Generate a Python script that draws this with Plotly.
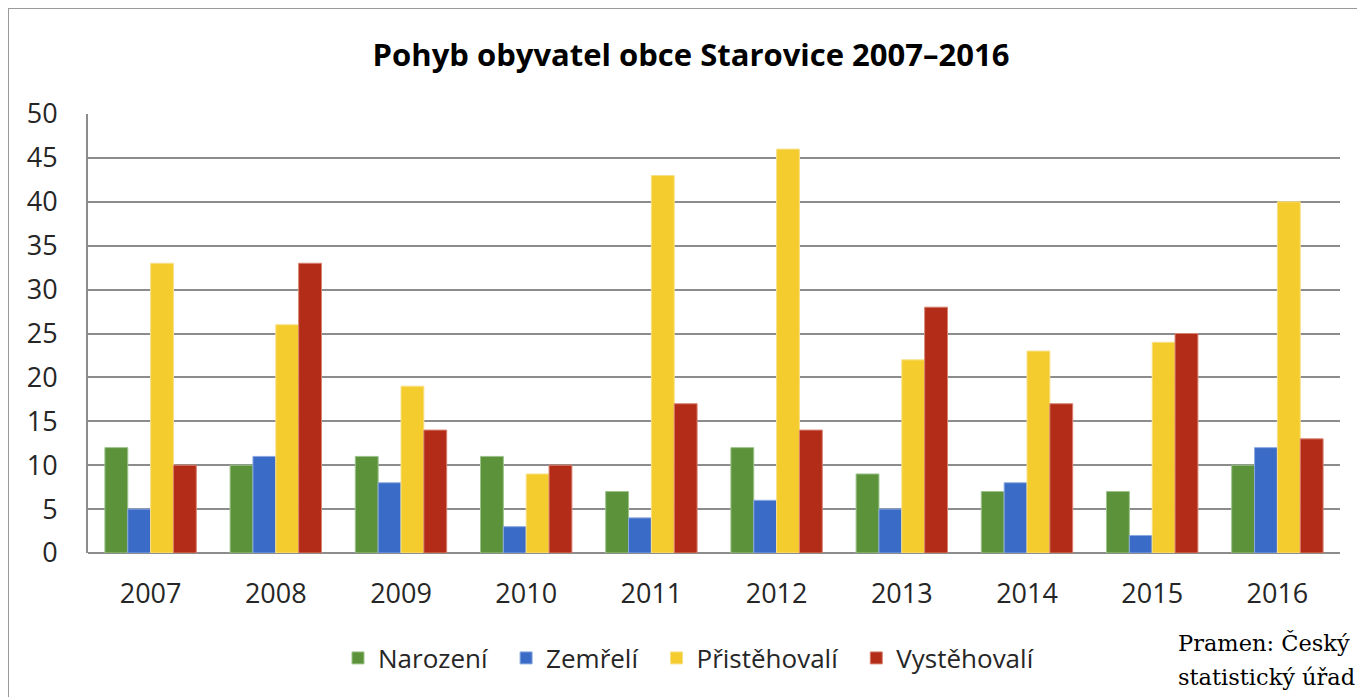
import plotly.graph_objects as go

years = ["2007", "2008", "2009", "2010", "2011", "2012", "2013", "2014", "2015", "2016"]
narozeni = [12, 10, 11, 11, 7, 12, 9, 7, 7, 10]
zemreli = [5, 11, 8, 3, 4, 6, 5, 8, 2, 12]
pristehovali = [33, 26, 19, 9, 43, 46, 22, 23, 24, 40]
vystehovali = [10, 33, 14, 10, 17, 14, 28, 17, 25, 13]

series_names = ["Narození", "Zemřelí", "Přistěhovalí", "Vystěhovalí"]
series_values = [narozeni, zemreli, pristehovali, vystehovali]
colors = ["#5B923A", "#3A6BC6", "#F4CC2D", "#B22C17"]
edge_colors = ["#9CC38A", "#8AA9E0", "#F8E08A", "#D9806F"]

fig = go.Figure()
for name, vals, c, ec in zip(series_names, series_values, colors, edge_colors):
    fig.add_trace(go.Bar(x=years, y=vals, name=name + "\u00a0\u00a0",
                         marker=dict(color=c, line=dict(color=ec, width=1))))

# page body has an 8px default margin; work in target-page pixels and offset
OFF = 8
W, H = 1365 - OFF, 697 - OFF
L = 88 - OFF
T = 114 - OFF
R = W - (1340 - OFF)
B = H - (553 - OFF)
pw = W - L - R
ph = H - T - B

def px2x(px):
    return (px - OFF - L) / pw

def py2y(py):
    return (H - B - (py - OFF)) / ph

FONT = "'Open Sans', Lato, sans-serif"

fig.update_layout(
    width=W, height=H,
    margin=dict(l=L, r=R, t=T, b=B, autoexpand=False),
    paper_bgcolor="white", plot_bgcolor="white",
    barmode="group", bargap=0.27, bargroupgap=0,
    font=dict(family=FONT, color="#262626"),
    title=dict(text="<b>Pohyb obyvatel obce Starovice 2007–2016</b>",
               x=px2x(691), xref="paper", xanchor="center",
               y=1 - (55 - OFF) / H, yref="container", yanchor="middle",
               font=dict(size=31, color="#000000", family=FONT)),
    xaxis=dict(showgrid=False, showline=False, ticks="", automargin=False,
               tickfont=dict(size=27, color="#262626", family=FONT),
               ticklabelstandoff=22),
    yaxis=dict(range=[0, 50], dtick=5, showgrid=True, gridcolor="#8C8C8C", gridwidth=2,
               showline=True, linecolor="#8C8C8C", linewidth=2, zeroline=True,
               zerolinecolor="#8C8C8C", zerolinewidth=2, ticks="", automargin=False,
               tickfont=dict(size=27, color="#262626", family=FONT), ticklabelstandoff=23),
    legend=dict(orientation="h", x=px2x(338), xanchor="left", y=py2y(658), yanchor="middle",
                font=dict(size=26, color="#262626", family=FONT), itemwidth=30, tracegroupgap=0,
                bgcolor="rgba(0,0,0,0)"),
    showlegend=True,
)

SERIF = "'DejaVu Serif', 'Liberation Serif', serif"
fig.add_annotation(text="Pramen: Český", xref="paper", yref="paper",
                   x=px2x(1176), y=py2y(643), xanchor="left", yanchor="middle", align="left",
                   showarrow=False, font=dict(family=SERIF, size=22.5, color="#000000"))
fig.add_annotation(text="statistický úřad", xref="paper", yref="paper",
                   x=px2x(1176), y=py2y(677), xanchor="left", yanchor="middle", align="left",
                   showarrow=False, font=dict(family=SERIF, size=22.5, color="#000000"))

# outer frame lines (left and top)
fig.add_shape(type="line", xref="paper", yref="paper", x0=px2x(8), x1=px2x(8), y0=py2y(8), y1=py2y(697),
              line=dict(color="#9a9a9a", width=2))
fig.add_shape(type="line", xref="paper", yref="paper", x0=px2x(8), x1=px2x(1365), y0=py2y(8), y1=py2y(8),
              line=dict(color="#9a9a9a", width=2))

fig.write_html("out.html")
